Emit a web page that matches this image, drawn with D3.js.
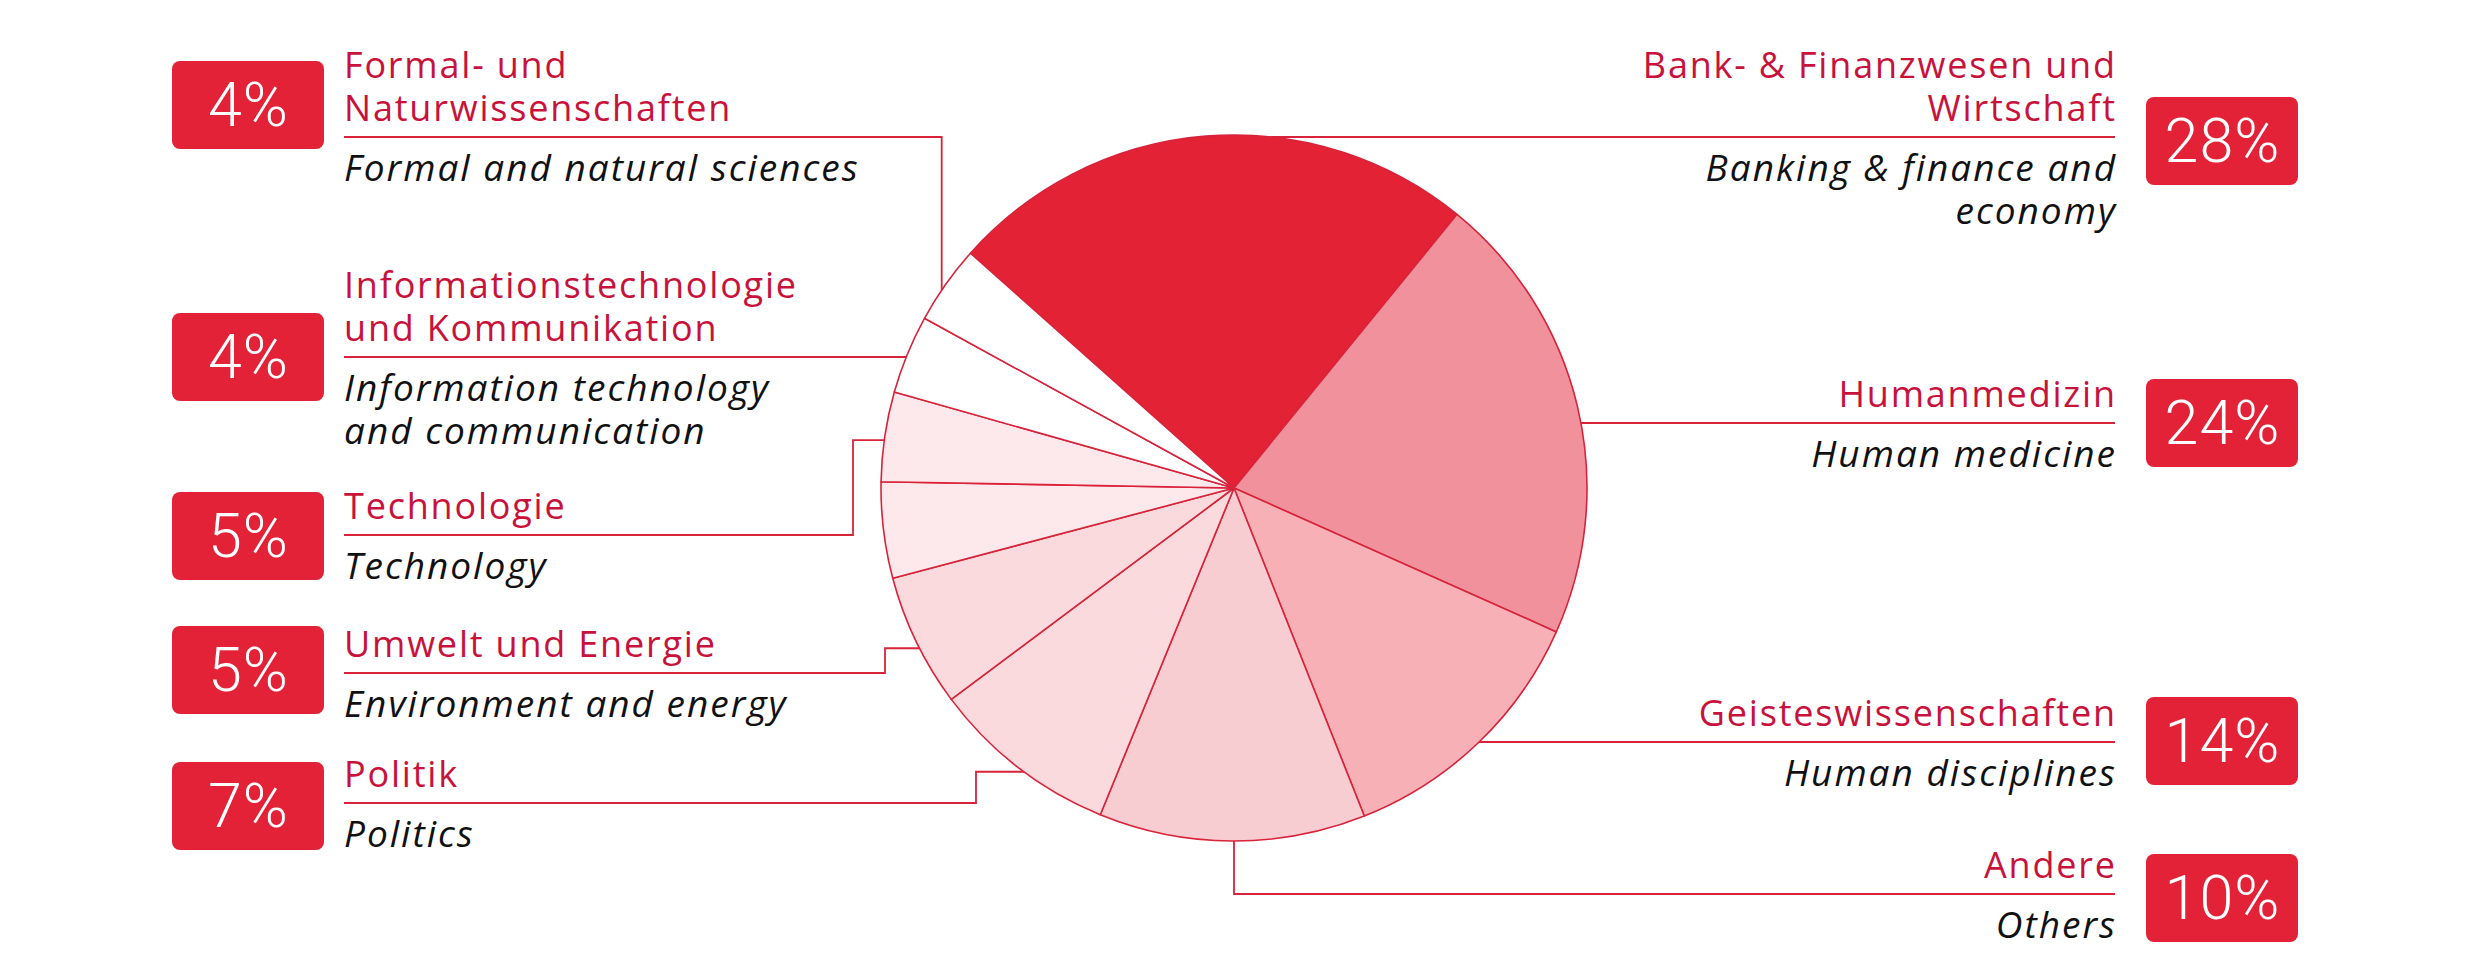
<!DOCTYPE html>
<html>
<head>
<meta charset="utf-8">
<script src="https://cdn.jsdelivr.net/npm/d3@7"></script>
<style>
  body { margin: 0; background: #fff; }
  svg { display: block; }
  .de { font-family: "Open Sans", Roboto, sans-serif; font-size: 36px; fill: #c8123c; letter-spacing: 1.8px; }
  .en { font-family: "Open Sans", Roboto, sans-serif; font-size: 37px; font-style: italic; fill: #111; letter-spacing: 2px; }
  .pct { font-family: Roboto, "Noto Sans", sans-serif; font-size: 61px; font-weight: 300; fill: #fff; letter-spacing: 1px; }
</style>
</head>
<body>
<svg id="chart"></svg>
<script>
// label data, order: right side top to bottom, then left side bottom to top
const namesDe = [
  ["Bank- & Finanzwesen und", "Wirtschaft"],
  ["Humanmedizin"],
  ["Geisteswissenschaften"],
  ["Andere"],
  ["Politik"],
  ["Umwelt und Energie"],
  ["Technologie"],
  ["Informationstechnologie", "und Kommunikation"],
  ["Formal- und", "Naturwissenschaften"]
]
const namesEn = [
  ["Banking & finance and", "economy"],
  ["Human medicine"],
  ["Human disciplines"],
  ["Others"],
  ["Politics"],
  ["Environment and energy"],
  ["Technology"],
  ["Information technology", "and communication"],
  ["Formal and natural sciences"]
]
const percents = [28, 24, 14, 10, 7, 5, 5, 4, 4]

// pie slices as drawn (share of the circle in %, clockwise from the bank slice)
const sliceValues = [24.3, 20.8, 12.3, 12.2, 8.6, 6.1, 4.4, 4.1, 3.6, 3.6]
const sliceColors = ["#e32236", "#f0919b", "#f6b0b6", "#f8cdd2", "#fadadd", "#fadadd", "#fde9ec", "#fde9ec", "#ffffff", "#ffffff"]

const width = 2475
const height = 972
const cx = 1234, cy = 488, radius = 353
const red = "#d8233b"

// where each label sits: underline y, box centre y, elbow x of the leader, angle (deg) where it hits the pie
const labelLayout = [
  { side: "R", y: 137, boxY: 141, elbowX: null, angle: 6 },
  { side: "R", y: 423, boxY: 423, elbowX: null, angle: 79.4 },
  { side: "R", y: 742, boxY: 741, elbowX: null, angle: 136 },
  { side: "R", y: 894, boxY: 898, elbowX: cx, angle: 180 },
  { side: "L", y: 803, boxY: 806, elbowX: 976, angle: 216.5 },
  { side: "L", y: 673, boxY: 670, elbowX: 885, angle: 243 },
  { side: "L", y: 535, boxY: 536, elbowX: 853, angle: 277.8 },
  { side: "L", y: 357, boxY: 357, elbowX: null, angle: 291.8 },
  { side: "L", y: 137, boxY: 105, elbowX: null, angle: 304.1 }
]

const svg = d3.select("#chart")
  .attr("width", width)
  .attr("height", height)

const startAngle = -48.3 * Math.PI / 180
const pie = d3.pie()
  .value(d => d)
  .sort(null)
  .startAngle(startAngle)
  .endAngle(startAngle + 2 * Math.PI)

const arc = d3.arc()
  .innerRadius(0)
  .outerRadius(radius)

// leader lines go under the pie
const lines = svg.append("g")
const pieGroup = svg.append("g")
  .attr("transform", "translate(" + cx + "," + cy + ")")

pieGroup.selectAll("path")
  .data(pie(sliceValues))
  .join("path")
  .attr("d", arc)
  .attr("fill", (d, i) => sliceColors[i])
  .attr("stroke", red)
  .attr("stroke-width", 1.6)
  .attr("stroke-linejoin", "round")

const leftText = 344
const rightText = 2115
const boxW = 152, boxH = 88
const leftBox = 172, rightBox = 2146
const lineGap = 43

function hookPoint(deg) {
  const a = deg * Math.PI / 180
  return [cx + radius * Math.sin(a), cy - radius * Math.cos(a)]
}

const labels = svg.append("g")

// one text element per block, lines as tspans
function textBlock(cls, x, firstY, rows, anchor) {
  const t = labels.append("text")
    .attr("class", cls)
    .attr("text-anchor", anchor)
  rows.forEach((r, j) => {
    t.append("tspan")
      .attr("x", x)
      .attr("y", firstY + j * lineGap)
      .text(r)
  })
}

labelLayout.forEach((l, i) => {
  const [hx, hy] = hookPoint(l.angle)
  const ex = l.elbowX === null ? hx : l.elbowX
  const sx = l.side === "L" ? leftText : rightText
  const p = d3.path()
  p.moveTo(sx, l.y)
  p.lineTo(ex, l.y)
  p.lineTo(ex, hy)
  p.lineTo(hx, hy)
  lines.append("path")
    .attr("d", p.toString())
    .attr("fill", "none")
    .attr("stroke", red)
    .attr("stroke-width", 1.8)

  // letter-spacing leaves a gap after the last glyph, so push right-aligned text over by it
  const anchor = l.side === "L" ? "start" : "end"
  const de = namesDe[i]
  textBlock("de", l.side === "L" ? sx : sx + 1.8, l.y - 16.5 - (de.length - 1) * lineGap, de, anchor)
  textBlock("en", l.side === "L" ? sx : sx + 2, l.y + 44, namesEn[i], anchor)

  const bx = l.side === "L" ? leftBox : rightBox
  labels.append("rect")
    .attr("x", bx)
    .attr("y", l.boxY - boxH / 2)
    .attr("width", boxW)
    .attr("height", boxH)
    .attr("rx", 8)
    .attr("fill", "#e32238")
  labels.append("text")
    .attr("class", "pct")
    .attr("x", bx + boxW / 2 + 0.5)
    .attr("y", l.boxY + 21)
    .attr("text-anchor", "middle")
    .text(percents[i] + "%")
})
</script>
</body>
</html>
